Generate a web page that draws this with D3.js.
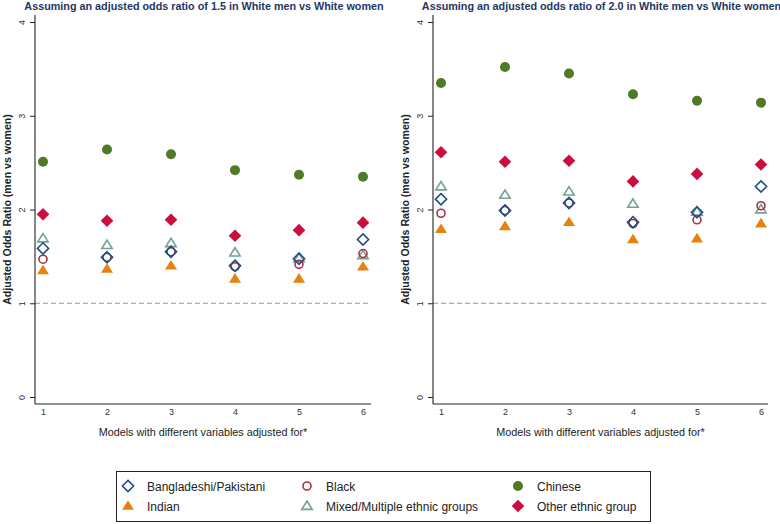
<!DOCTYPE html>
<html><head><meta charset="utf-8">
<script src="https://cdn.jsdelivr.net/npm/d3@7"></script>
<style>body{margin:0;background:#fff;}svg{display:block;font-family:"Liberation Sans",Arial,sans-serif;}</style>
</head><body>
<svg id="c" width="780" height="524"></svg>
<script>
const models = [1, 2, 3, 4, 5, 6];
const yTicks = [0, 1, 2, 3, 4];
const titles = [
  "Assuming an adjusted odds ratio of 1.5 in White men vs White women",
  "Assuming an adjusted odds ratio of 2.0 in White men vs White women"
];
const seriesNames = ["Bangladeshi/Pakistani", "Black", "Chinese", "Indian", "Mixed/Multiple ethnic groups", "Other ethnic group"];
// Panel 1 (OR 1.5)
const bangPak15 = [1.585, 1.49, 1.55, 1.40, 1.475, 1.68];
const black15   = [1.47, 1.49, 1.55, 1.39, 1.415, 1.53];
const chinese15 = [2.51, 2.64, 2.59, 2.42, 2.37, 2.35];
const indian15  = [1.35, 1.365, 1.40, 1.26, 1.26, 1.39];
const mixed15   = [1.69, 1.62, 1.64, 1.54, 1.48, 1.51];
const other15   = [1.95, 1.88, 1.89, 1.72, 1.78, 1.86];
// Panel 2 (OR 2.0)
const bangPak20 = [2.11, 1.99, 2.07, 1.865, 1.97, 2.245];
const black20   = [1.96, 1.99, 2.07, 1.85, 1.89, 2.04];
const chinese20 = [3.35, 3.52, 3.45, 3.23, 3.16, 3.14];
const indian20  = [1.79, 1.82, 1.865, 1.68, 1.69, 1.85];
const mixed20   = [2.245, 2.155, 2.19, 2.06, 1.975, 2.00];
const other20   = [2.61, 2.51, 2.52, 2.30, 2.38, 2.48];

const styles = {
  "Bangladeshi/Pakistani": {shape: "diamond", fill: "none", stroke: "#1d4f86"},
  "Black": {shape: "circle", fill: "none", stroke: "#a8323f"},
  "Chinese": {shape: "circle", fill: "#4f7a28", stroke: "none"},
  "Indian": {shape: "triangle", fill: "#e8820e", stroke: "none"},
  "Mixed/Multiple ethnic groups": {shape: "triangle", fill: "none", stroke: "#76a096"},
  "Other ethnic group": {shape: "diamond", fill: "#cc0e3c", stroke: "none"}
};

const panels = [
  {title: titles[0], data: [bangPak15, black15, chinese15, indian15, mixed15, other15], axisX: 35, x1: 43, x6: 363, xEnd: 371},
  {title: titles[1], data: [bangPak20, black20, chinese20, indian20, mixed20, other20], axisX: 433, x1: 441, x6: 761, xEnd: 768}
];

const svg = d3.select("#c");

function symbolPath(shape, filled) {
  if (shape === "diamond") {
    const s = filled ? 6.3 : 5.6;
    return `M0,${-s}L${s},0L0,${s}L${-s},0Z`;
  }
  if (shape === "triangle") {
    const s = filled ? 6 : 5.2;
    const h = s * 1.6;
    return `M0,${-h*0.6}L${s},${h*0.4}L${-s},${h*0.4}Z`;
  }
  const r = filled ? 5 : 4;
  return d3.arc()({innerRadius: 0, outerRadius: r, startAngle: 0, endAngle: 2 * Math.PI});
}

function drawSymbol(g, name, x, y) {
  const st = styles[name];
  const filled = st.fill !== "none";
  g.append("path")
    .attr("d", symbolPath(st.shape, filled))
    .attr("transform", `translate(${x},${y})`)
    .attr("fill", st.fill)
    .attr("stroke", st.stroke)
    .attr("stroke-width", filled ? 0 : 1.6);
}

const yScale = d3.scaleLinear().domain([0, 4]).range([397, 22]);

panels.forEach(p => {
  const g = svg.append("g");
  const xScale = d3.scaleLinear().domain([1, 6]).range([p.x1, p.x6]);

  g.append("text").attr("x", (p.axisX + p.xEnd) / 2 + 1).attr("y", 9.5)
    .attr("text-anchor", "middle").attr("font-size", 10.8).attr("font-weight", "bold")
    .attr("fill", "#1f3763").text(p.title);

  // reference line at 1
  g.append("line").attr("x1", p.axisX).attr("x2", p.xEnd)
    .attr("y1", yScale(1)).attr("y2", yScale(1))
    .attr("stroke", "#8a8a8a").attr("stroke-width", 0.9).attr("stroke-dasharray", "5,3");

  // y axis
  const yAxis = g.append("g").attr("transform", `translate(${p.axisX},0)`)
    .call(d3.axisLeft(yScale).tickValues(yTicks).tickFormat(d3.format("d")).tickSize(5).tickSizeOuter(0));
  yAxis.select(".domain").attr("d", `M0,15V404`).attr("stroke", "#222").attr("stroke-width", 1.1);
  yAxis.selectAll(".tick line").attr("stroke", "#222");
  yAxis.selectAll(".tick text").attr("font-size", 9).attr("fill", "#333")
    .attr("transform", "rotate(-90)").attr("x", 0).attr("y", -10)
    .attr("dy", 0).attr("text-anchor", "middle").attr("font-family", "Liberation Sans, Arial, sans-serif");

  // x axis
  const xAxis = g.append("g").attr("transform", `translate(0,404)`)
    .call(d3.axisBottom(xScale).tickValues(models).tickFormat(d3.format("d")).tickSize(0).tickSizeOuter(0));
  xAxis.select(".domain").attr("d", `M${p.axisX},0H${p.xEnd}`).attr("stroke", "#222").attr("stroke-width", 1.1);
  xAxis.selectAll(".tick text").attr("font-size", 9).attr("fill", "#333").attr("dy", 0).attr("y", 11)
    .attr("font-family", "Liberation Sans, Arial, sans-serif");

  g.append("text").attr("x", (p.axisX + p.xEnd) / 2).attr("y", 435.5)
    .attr("text-anchor", "middle").attr("font-size", 10.8).attr("fill", "#222")
    .text("Models with different variables adjusted for*");

  g.append("text").attr("transform", `translate(${p.axisX - 24},${yScale(2)}) rotate(-90)`)
    .attr("text-anchor", "middle").attr("font-size", 10.6).attr("font-weight", "bold").attr("fill", "#222")
    .text("Adjusted Odds Ratio (men vs women)");

  // draw order: Indian, Mixed, Black, Bangladeshi, Other, Chinese
  const order = [3, 4, 1, 0, 5, 2];
  order.forEach(si => {
    p.data[si].forEach((v, i) => drawSymbol(g, seriesNames[si], xScale(models[i]), yScale(v)));
  });
});

// legend
const lg = svg.append("g");
lg.append("rect").attr("x", 116.5).attr("y", 471.5).attr("width", 534).attr("height", 50)
  .attr("fill", "#fff").attr("stroke", "#222").attr("stroke-width", 1);
const legendPos = [
  [128, 486], [307, 486], [518, 486],
  [128, 506], [307, 506], [518, 506]
];
const legendOrder = ["Bangladeshi/Pakistani", "Black", "Chinese", "Indian", "Mixed/Multiple ethnic groups", "Other ethnic group"];
legendOrder.forEach((name, i) => {
  const [x, y] = legendPos[i];
  drawSymbol(lg, name, x, y);
  lg.append("text").attr("x", x + 19).attr("y", y + 4.5).attr("font-size", 12).attr("fill", "#222").text(name);
});
</script>
</body></html>
